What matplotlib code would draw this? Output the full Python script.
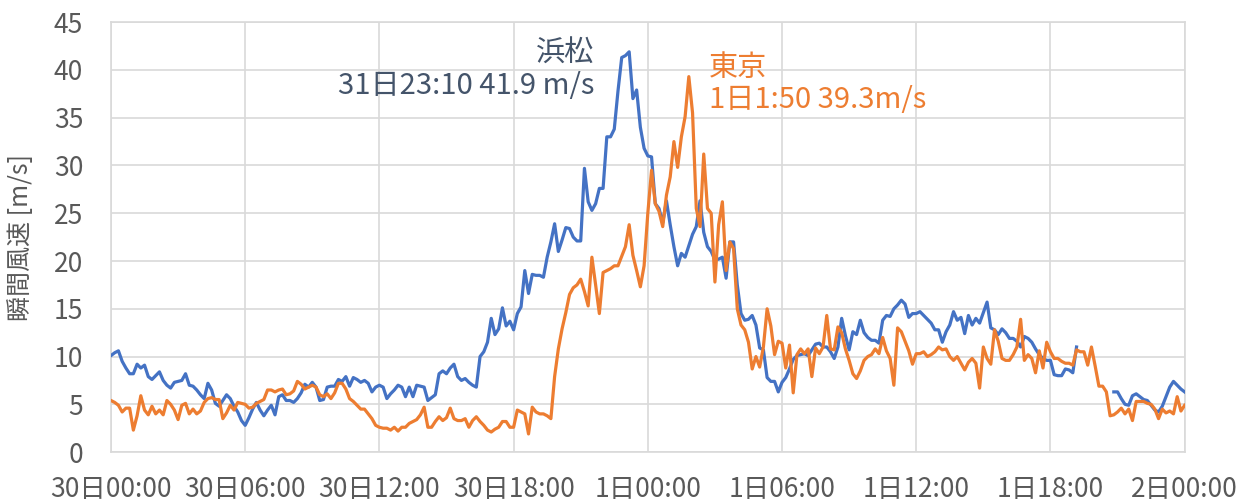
import numpy as np
import matplotlib
matplotlib.use("Agg")
import matplotlib.pyplot as plt

plt.rcParams['font.family'] = ['Noto Sans CJK JP', 'DejaVu Sans']

# ---------- data: 10-minute gust speed [m/s], 30日00:00 .. 2日00:00 ----------
nan = np.nan
hamamatsu = [
    10.1, 10.4, 10.6, 9.5, 8.8, 8.2,   8.2, 9.2, 8.8, 9.1, 7.9, 7.6,
    8.0, 8.4, 7.5, 7.0, 6.7, 7.3,      7.4, 7.5, 8.2, 7.0, 6.9, 6.5,
    6.0, 5.6, 7.2, 6.5, 5.1, 4.8,      5.4, 6.0, 5.6, 4.8, 4.2, 3.3,
    2.8, 3.6, 4.5, 5.2, 4.4, 3.8,      4.4, 4.9, 3.9, 5.8, 6.0, 5.4,
    5.4, 5.2, 5.6, 6.2, 7.1, 6.8,      7.3, 6.8, 5.4, 5.5, 6.8, 6.9,
    6.9, 7.6, 7.4, 7.9, 6.9, 7.8,      7.6, 7.3, 7.5, 7.2, 6.3, 6.8,
    7.0, 6.8, 5.6, 6.1, 6.5, 7.0,      6.8, 5.8, 6.8, 5.8, 7.0, 6.9,
    6.8, 5.4, 5.7, 6.0, 8.2, 8.5,      8.2, 8.8, 9.2, 7.9, 7.5, 7.7,
    7.3, 7.0, 6.8, 10.0, 10.5, 11.5,   14.0, 12.3, 12.9, 15.1, 13.2, 13.7,
    12.8, 14.5, 15.2, 19.0, 16.6, 18.6, 18.5, 18.5, 18.3, 20.4, 22.0, 23.9,
    21.0, 22.2, 23.5, 23.4, 22.5, 22.1, 22.1, 29.7, 26.2, 25.3, 26.0, 27.6,
    27.6, 33.0, 33.0, 33.8, 37.8, 41.3, 41.5, 41.9, 37.0, 37.9, 34.0, 31.8,
    31.0, 30.9, 26.0, 25.5, 24.0, 26.3, 23.8, 21.5, 19.5, 20.8, 20.4, 21.6,
    22.8, 23.6, 26.3, 23.0, 21.5, 21.0, 20.1, 20.2, 20.4, 18.2, 22.0, 22.0,
    17.5, 14.5, 13.8, 13.9, 14.3, 13.3, 10.9, 10.7, 7.8, 7.4, 7.4, 6.3,
    7.3, 7.8, 8.7, 9.7, 10.1, 10.2,    10.3, 10.1, 10.7, 11.3, 11.4, 11.0,
    11.0, 10.5, 9.8, 11.0, 14.0, 12.2, 10.7, 12.6, 12.3, 13.8, 12.5, 12.0,
    11.7, 11.7, 11.4, 13.8, 14.3, 14.2, 15.0, 15.4, 15.9, 15.5, 14.1, 14.5,
    14.5, 14.7, 14.3, 13.9, 13.5, 12.8, 12.8, 11.5, 12.6, 13.3, 14.7, 13.8,
    14.1, 12.4, 14.3, 13.3, 14.0, 13.5, 14.6, 15.7, 13.0, 12.8, 12.3, 12.9,
    12.5, 11.9, 11.9, 11.6, 11.0, 12.1, 11.9, 11.5, 10.8, 10.2, 9.8, 9.6,
    9.6, 8.1, 8.0, 8.0, 8.7, 8.6,      8.3, 11.0, nan, nan, nan, nan,
    nan, nan, nan, nan, nan, 6.3,      6.3, 5.6, 5.0, 4.9, 5.9, 6.1,
    5.8, 5.5, 5.4, 4.9, 4.4, 4.2,      4.8, 5.8, 6.8, 7.4, 7.0, 6.6,
    6.3,
]
tokyo = [
    5.4, 5.2, 4.9, 4.2, 4.6, 4.6,      2.3, 3.8, 5.9, 4.4, 3.9, 4.8,
    4.0, 4.4, 3.9, 5.4, 5.0, 4.4,      3.4, 4.9, 5.1, 4.0, 4.5, 4.0,
    4.3, 5.2, 5.6, 5.7, 5.5, 5.5,      3.5, 4.1, 4.9, 4.4, 5.2, 5.1,
    5.0, 4.6, 4.7, 5.1, 5.3, 5.5,      6.5, 6.5, 6.3, 6.5, 6.6, 6.0,
    6.1, 6.4, 7.4, 7.1, 6.6, 6.8,      7.0, 6.8, 6.0, 5.8, 6.1, 5.6,
    6.2, 7.2, 7.2, 6.6, 5.6, 5.3,      4.9, 4.5, 4.5, 4.0, 3.5, 2.8,
    2.6, 2.5, 2.5, 2.3, 2.6, 2.2,      2.6, 2.6, 3.0, 3.2, 3.4, 3.9,
    4.7, 2.6, 2.6, 3.2, 3.7, 3.3,      3.6, 4.6, 3.5, 3.3, 3.3, 3.5,
    2.6, 3.3, 3.7, 3.2, 2.8, 2.3,      2.1, 2.4, 2.6, 3.2, 3.2, 2.6,
    2.6, 4.4, 4.2, 4.0, 1.9, 4.7,      4.2, 4.0, 4.0, 3.8, 3.5, 7.9,
    10.8, 12.9, 14.6, 16.5, 17.2, 17.5, 18.1, 16.8, 15.3, 20.4, 17.5, 14.5,
    18.8, 19.0, 19.2, 19.5, 19.5, 20.5, 21.5, 23.8, 20.6, 19.0, 17.3, 19.5,
    25.0, 29.5, 26.0, 25.2, 23.6, 26.9, 28.8, 32.5, 29.8, 33.0, 35.1, 39.3,
    35.5, 25.5, 23.6, 31.2, 25.5, 25.0, 17.8, 23.8, 26.2, 19.0, 22.0, 21.3,
    15.0, 13.3, 12.8, 11.5, 8.7, 10.0,  8.9, 11.0, 15.0, 13.2, 10.2, 11.6,
    11.4, 8.8, 11.2, 6.2, 10.2, 10.8,   10.3, 10.8, 7.9, 10.9, 10.3, 11.0,
    14.3, 10.8, 10.7, 13.1, 12.5, 10.8, 9.6, 8.2, 7.7, 8.5, 9.6, 10.0,
    10.2, 10.8, 10.3, 12.0, 10.6, 9.8,  7.0, 13.0, 12.6, 11.6, 10.6, 9.2,
    10.3, 10.3, 10.5, 10.0, 10.2, 10.5, 11.0, 10.7, 10.8, 10.0, 9.6, 10.0,
    9.3, 8.6, 9.4, 9.8, 9.3, 6.7,       11.0, 9.8, 9.2, 12.8, 11.6, 9.8,
    9.6, 9.6, 10.2, 11.0, 13.9, 9.6,    10.2, 9.8, 8.3, 10.6, 8.8, 11.5,
    10.5, 9.8, 9.8, 9.5, 9.3, 9.3,      9.1, 10.7, 10.5, 10.5, 9.1, 11.0,
    9.0, 6.9, 6.9, 6.3, 3.8, 3.9,       4.2, 4.6, 4.0, 4.5, 3.3, 5.3,
    5.3, 5.3, 5.1, 5.0, 4.5, 3.5,       4.5, 4.1, 4.3, 4.0, 5.8, 4.3,
    4.9,
]
tick_labels = ["30日00:00", "30日06:00", "30日12:00", "30日18:00",
               "1日00:00", "1日06:00", "1日12:00", "1日18:00", "2日00:00"]
hours = np.arange(len(hamamatsu)) / 6.0

# ---------- plot ----------
fig = plt.figure(figsize=(12.47, 5.04), dpi=100)
ax = fig.add_axes([0.089, 0.103, 0.861, 0.853])

blue, orange = "#4472C4", "#ED7D31"
ax.plot(hours, hamamatsu, color=blue, lw=2.3, zorder=3)
ax.plot(hours, tokyo, color=orange, lw=2.3, zorder=3)

ax.set_xlim(0, 48)
ax.set_ylim(0, 45)
ax.set_xticks(np.arange(0, 49, 6))
ax.set_xticklabels(tick_labels)
ax.set_yticks(np.arange(0, 46, 5))
ax.grid(True, color="#D9D9D9", lw=1.2, zorder=0)
for s in ax.spines.values():
    s.set_color("#D9D9D9")
    s.set_linewidth(1.2)
ax.tick_params(length=0, labelsize=19, colors="#595959")
ax.tick_params(axis="x", pad=17)
ax.tick_params(axis="y", pad=20)
ax.set_ylabel("瞬間風速 [m/s]", fontsize=18, color="#595959", labelpad=14)

ax.text(21.6, 40.0, "浜松\n31日23:10 41.9 m/s", ha="right", va="center",
        multialignment="right", fontsize=21, color="#44546A", linespacing=1.1)
ax.text(26.75, 38.5, "東京\n1日1:50 39.3m/s", ha="left", va="center",
        multialignment="left", fontsize=21, color=orange, linespacing=1.1)

fig.savefig("out.png", dpi=100)
